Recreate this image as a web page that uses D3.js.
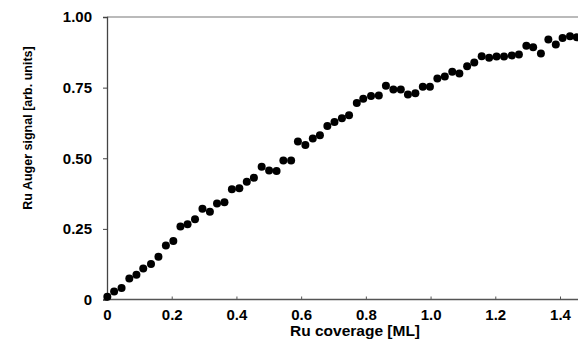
<!DOCTYPE html>
<html>
<head>
<meta charset="utf-8">
<script src="https://cdn.jsdelivr.net/npm/d3@7"></script>
<style>
  body { margin: 0; background: #fff; }
  svg { display: block; }
  text { font-family: "Liberation Sans", Arial, sans-serif; font-weight: bold; fill: #000; }
</style>
</head>
<body>
<div id="chart"></div>
<script>
// Ru coverage [ML]
const coverage = [
  0.001, 0.022, 0.045, 0.069, 0.091, 0.112, 0.136, 0.159, 0.182, 0.205,
  0.227, 0.249, 0.272, 0.295, 0.318, 0.340, 0.363, 0.386, 0.409, 0.432,
  0.454, 0.478, 0.501, 0.524, 0.545, 0.569, 0.590, 0.613, 0.636, 0.658,
  0.681, 0.703, 0.726, 0.748, 0.772, 0.792, 0.816, 0.840, 0.862, 0.885,
  0.908, 0.930, 0.953, 0.976, 0.998, 1.021, 1.044, 1.067, 1.089, 1.113,
  1.135, 1.158, 1.181, 1.204, 1.227, 1.251, 1.273, 1.296, 1.317, 1.341,
  1.364, 1.387, 1.408, 1.431, 1.452
];
// Ru Auger signal [arb. units]
const signal = [
  0.010, 0.028, 0.041, 0.074, 0.088, 0.110, 0.126, 0.151, 0.191, 0.207,
  0.258, 0.266, 0.284, 0.321, 0.311, 0.340, 0.344, 0.390, 0.394, 0.417,
  0.431, 0.470, 0.457, 0.455, 0.492, 0.492, 0.559, 0.547, 0.570, 0.581,
  0.614, 0.628, 0.642, 0.652, 0.696, 0.711, 0.720, 0.722, 0.757, 0.743,
  0.743, 0.726, 0.730, 0.753, 0.753, 0.782, 0.789, 0.806, 0.800, 0.826,
  0.839, 0.861, 0.856, 0.860, 0.860, 0.864, 0.867, 0.898, 0.893, 0.871,
  0.920, 0.903, 0.926, 0.932, 0.928
];
const xTicks = [0, 0.2, 0.4, 0.6, 0.8, 1.0, 1.2, 1.4];
const yTicks = [0, 0.25, 0.5, 0.75, 1.0];

const width = 578, height = 340;
const margin = { top: 17, right: 0, bottom: 40, left: 107 };

const svg = d3.select('#chart').append('svg')
  .attr('width', width)
  .attr('height', height);

// x: 0 -> 107px, 1.4 -> 560px
const x = d3.scaleLinear().domain([0, 1.4]).range([margin.left, 560]);
const y = d3.scaleLinear().domain([0, 1]).range([299.5, margin.top]);

// top frame line
svg.append('line')
  .attr('x1', margin.left).attr('x2', width)
  .attr('y1', y(1)).attr('y2', y(1))
  .attr('stroke', '#777').attr('stroke-width', 1.2);

// y axis
const yAxis = svg.append('g')
  .attr('transform', `translate(${margin.left},0)`)
  .call(d3.axisLeft(y).tickValues(yTicks).tickSize(4).tickPadding(11)
    .tickFormat(d => d === 0 ? '0' : d3.format('.2f')(d)));
yAxis.select('.domain').attr('stroke', '#444').attr('stroke-width', 1.3);
yAxis.selectAll('.tick line').attr('stroke', '#444');
yAxis.selectAll('.tick text').style('font-size', '15px');

// x axis
const xAxis = svg.append('g')
  .attr('transform', `translate(0,${y(0)})`)
  .call(d3.axisBottom(x).tickValues(xTicks).tickSize(-3)
    .tickFormat(d => d === 0 ? '0' : d3.format('.1f')(d)));
xAxis.select('.domain').attr('d', `M${margin.left},0H${width}`)
  .attr('stroke', '#555').attr('stroke-width', 1.3);
xAxis.selectAll('.tick line').attr('stroke', '#555');
xAxis.selectAll('.tick text')
  .attr('y', 20.5).attr('dy', 0)
  .style('font-size', '15px');

// axis titles
svg.append('text')
  .attr('x', 355).attr('y', 335.5)
  .attr('text-anchor', 'middle')
  .style('font-size', '15.5px')
  .text('Ru coverage [ML]');

svg.append('text')
  .attr('transform', `translate(32,128) rotate(-90)`)
  .attr('text-anchor', 'middle')
  .style('font-size', '12.5px')
  .text('Ru Auger signal [arb. units]');

// data points
const points = coverage.map((c, i) => ({ c, s: signal[i] }));
svg.append('g')
  .selectAll('circle')
  .data(points)
  .enter().append('circle')
  .attr('cx', d => x(d.c))
  .attr('cy', d => y(d.s))
  .attr('r', 4)
  .attr('fill', '#000');
</script>
</body>
</html>
